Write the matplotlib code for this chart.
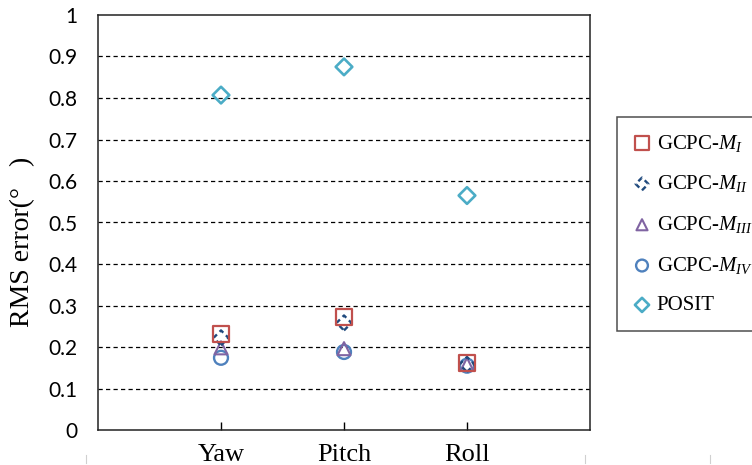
import numpy as np
import matplotlib
matplotlib.use("Agg")
import matplotlib.pyplot as plt
from matplotlib.lines import Line2D

plt.rcParams['mathtext.fontset'] = 'custom'
plt.rcParams['mathtext.rm'] = 'Liberation Serif'
plt.rcParams['mathtext.it'] = 'Liberation Serif:italic'

# attitude angles and RMS errors (degrees) per method
angles = ['Yaw', 'Pitch', 'Roll']
gcpc_m1 = [0.232, 0.273, 0.162]
gcpc_m2 = [0.222, 0.258, 0.158]
gcpc_m3 = [0.198, 0.196, 0.158]
gcpc_m4 = [0.174, 0.188, 0.155]
posit = [0.807, 0.875, 0.565]

labels = ['GCPC-$\\mathit{M}_{\\mathit{I}}$',
          'GCPC-$\\mathit{M}_{\\mathit{II}}$',
          'GCPC-$\\mathit{M}_{\\mathit{III}}$',
          'GCPC-$\\mathit{M}_{\\mathit{IV}}$',
          'POSIT']
yticks = [0, 0.1, 0.2, 0.3, 0.4, 0.5, 0.6, 0.7, 0.8, 0.9, 1]
ytick_labels = ['0', '0.1', '0.2', '0.3', '0.4', '0.5', '0.6', '0.7', '0.8', '0.9', '1']

x = np.arange(1, len(angles) + 1)

fig = plt.figure(figsize=(7.52, 4.65), dpi=100)
ax = fig.add_axes([98 / 752, 35 / 465, 492 / 752, 415 / 465])

s4 = ax.scatter(x, gcpc_m4, marker='o', s=100, facecolors='none',
                edgecolors='#4f81bd', linewidths=1.7, zorder=3)
s3 = ax.scatter(x, gcpc_m3, marker='^', s=88, facecolors='none',
                edgecolors='#8064a2', linewidths=1.5, zorder=4)
s2 = ax.scatter(x, gcpc_m2, marker='D', s=58, facecolors='none',
                edgecolors='#1f497d', linewidths=1.7, linestyles=(0, (2.2, 1.6)),
                zorder=5)
s1 = ax.scatter(x, gcpc_m1, marker='s', s=132, facecolors='none',
                edgecolors='#c0504d', linewidths=1.6, zorder=6)
s5 = ax.scatter(x, posit, marker='D', s=72, facecolors='none',
                edgecolors='#4bacc6', linewidths=1.9, zorder=6)

ax.set_xlim(0, 4)
ax.set_ylim(0, 1)
ax.set_xticks(x)
ax.set_xticklabels(angles, family='Liberation Serif', fontsize=19)
ax.set_yticks(yticks)
ax.set_yticklabels(ytick_labels, family='Lato', fontsize=15)
ax.tick_params(axis='x', direction='in', length=6, width=1, pad=10)
ax.tick_params(axis='y', length=0, pad=15)

for v in yticks[1:-1]:
    ax.axhline(v, color='black', linewidth=0.9, linestyle=(0, (3.4, 2.6)), zorder=1)

for sp in ax.spines.values():
    sp.set_linewidth(1.1)
    sp.set_color('#222222')

fig.text(23 / 752, 1 - 242 / 465, 'RMS error(°   )', rotation=90,
         family='Liberation Serif', fontsize=20, ha='center', va='center')

leg = ax.legend([s1, s2, s3, s4, s5], labels,
                loc='upper left', bbox_to_anchor=(617 / 752, 1 - 117 / 465),
                bbox_transform=fig.transFigure, frameon=True, fancybox=False,
                prop={'family': 'Liberation Serif', 'size': 15},
                scatterpoints=1, markerscale=0.85, labelspacing=0.95,
                handlelength=0.9, handletextpad=0.25, borderpad=0.75,
                borderaxespad=0)
leg.get_frame().set_edgecolor('#222222')
leg.get_frame().set_linewidth(1.1)

# faint marks along the bottom edge
for px in [86, 585, 710]:
    fig.add_artist(Line2D([px / 752, px / 752], [2 / 465, 10 / 465],
                          color='#d0d0d0', linewidth=0.8))

fig.savefig('out.png', dpi=100)
